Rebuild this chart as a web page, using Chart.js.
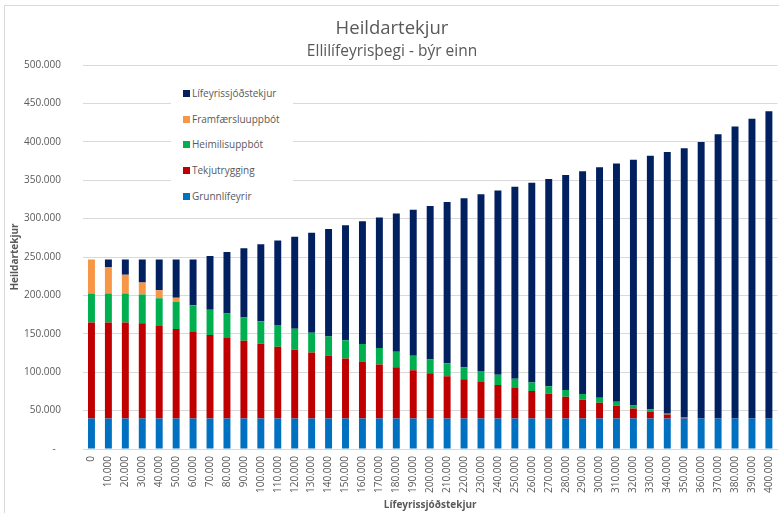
<!DOCTYPE html>
<html>
<head>
<meta charset="utf-8">
<script src="https://cdn.jsdelivr.net/npm/chart.js@4.4.0/dist/chart.umd.min.js"></script>
<style>
    html, body { margin: 0; padding: 0; background: #fff; overflow: hidden; width: 779px; height: 513px; }
    #frame { position: absolute; left: 4px; top: 5px; width: 800px; height: 600px; border-left: 1px solid #d9d9d9; border-top: 1px solid #d9d9d9; }
    #wrap { position: absolute; left: 0; top: 0; width: 788px; height: 513px; }
    #legend { position: absolute; left: 171px; top: 78px; width: 122px; height: 130px; background: #fff; font: 10px 'Open Sans', sans-serif; color: #595959; }
    .item { position: absolute; left: 12px; height: 14px; line-height: 14px; white-space: nowrap; }
    .item .box { display: inline-block; width: 7px; height: 7px; margin-right: 2px; vertical-align: 0px; }
</style>
</head>
<body>
<div id="frame"></div>
<div id="wrap"><canvas id="totalChart" width="788" height="513"></canvas></div>
<div id="legend"></div>
<script>
// Heildartekjur ellilífeyrisþega sem býr einn, eftir lífeyrissjóðstekjum

const incomeLabels = ['0', '10.000', '20.000', '30.000', '40.000', '50.000', '60.000', '70.000', '80.000', '90.000',
    '100.000', '110.000', '120.000', '130.000', '140.000', '150.000', '160.000', '170.000', '180.000', '190.000',
    '200.000', '210.000', '220.000', '230.000', '240.000', '250.000', '260.000', '270.000', '280.000', '290.000',
    '300.000', '310.000', '320.000', '330.000', '340.000', '350.000', '360.000', '370.000', '380.000', '390.000', '400.000'];

const grunnlifeyrir = [39862, 39862, 39862, 39862, 39862, 39862, 39862, 39862, 39862, 39862,
    39862, 39862, 39862, 39862, 39862, 39862, 39862, 39862, 39862, 39862,
    39862, 39862, 39862, 39862, 39862, 39862, 39862, 39862, 39862, 39862,
    39862, 39862, 39862, 39862, 39862, 39862, 39862, 39862, 39862, 39862, 39862];

const tekjutrygging = [125000, 125000, 125000, 124000, 120200, 116300, 112500, 108700, 104800, 101000,
    97200, 93300, 89500, 85700, 81800, 78000, 74200, 70300, 66500, 62600,
    58800, 55000, 51100, 47300, 43500, 39600, 35800, 32000, 28100, 24300,
    20500, 16600, 12800, 9000, 5100, 1300, 0, 0, 0, 0, 0];

const heimilisuppbot = [37700, 37700, 37700, 37400, 36300, 35100, 34000, 32800, 31700, 30500,
    29400, 28200, 27100, 25900, 24800, 23600, 22500, 21300, 20200, 19000,
    17900, 16700, 15600, 14400, 13300, 12100, 11000, 9800, 8700, 7500,
    6400, 5200, 4100, 2900, 1800, 600, 0, 0, 0, 0, 0];

const framfaersluuppbot = [44300, 34300, 24300, 15600, 10500, 5600, 500, 0, 0, 0,
    0, 0, 0, 0, 0, 0, 0, 0, 0, 0,
    0, 0, 0, 0, 0, 0, 0, 0, 0, 0,
    0, 0, 0, 0, 0, 0, 0, 0, 0, 0, 0];

const lifeyrissjodstekjur = [0, 10000, 20000, 30000, 40000, 50000, 60000, 70000, 80000, 90000,
    100000, 110000, 120000, 130000, 140000, 150000, 160000, 170000, 180000, 190000,
    200000, 210000, 220000, 230000, 240000, 250000, 260000, 270000, 280000, 290000,
    300000, 310000, 320000, 330000, 340000, 350000, 360000, 370000, 380000, 390000, 400000];

const seriesNames = ['Grunnlífeyrir', 'Tekjutrygging', 'Heimilisuppbót', 'Framfærsluuppbót', 'Lífeyrissjóðstekjur'];
const seriesData = [grunnlifeyrir, tekjutrygging, heimilisuppbot, framfaersluuppbot, lifeyrissjodstekjur];
const seriesColors = ['#0070C0', '#C00000', '#00B050', '#F79646', '#002060'];

const textColor = '#595959';
const gridColor = '#d9d9d9';
const fontFamily = "'Open Sans', sans-serif";

function thousands(v) {
    return String(v).replace(/\B(?=(\d{3})+(?!\d))/g, '.');
}

const ctx = document.getElementById('totalChart').getContext('2d');
const chart = new Chart(ctx, {
    type: 'bar',
    data: {
        labels: incomeLabels,
        datasets: seriesNames.map((name, i) => ({
            label: name,
            data: seriesData[i],
            backgroundColor: seriesColors[i],
            borderWidth: 0,
            barPercentage: 0.41,
            categoryPercentage: 1.0
        }))
    },
    options: {
        responsive: false,
        animation: false,
        layout: {
            padding: { left: 4, right: 8, top: 0, bottom: 0 }
        },
        plugins: {
            legend: { display: false },
            tooltip: { enabled: false },
            title: {
                display: true,
                text: 'Heildartekjur',
                color: textColor,
                font: { family: fontFamily, size: 18.5, weight: 'normal', lineHeight: 1 },
                padding: { top: 19, bottom: 0 }
            },
            subtitle: {
                display: true,
                text: 'Ellilífeyrisþegi - býr einn',
                color: textColor,
                font: { family: fontFamily, size: 15.5, weight: 'normal', lineHeight: 1 },
                padding: { top: 6.3, bottom: 5.7 }
            }
        },
        scales: {
            x: {
                stacked: true,
                grid: { display: false, drawTicks: false },
                border: { display: true, color: gridColor },
                ticks: {
                    autoSkip: false,
                    maxRotation: 90,
                    minRotation: 90,
                    padding: 7,
                    color: textColor,
                    font: { family: fontFamily, size: 10 }
                },
                title: {
                    display: true,
                    text: 'Lífeyrissjóðstekjur',
                    color: textColor,
                    font: { family: fontFamily, size: 10, weight: 'bold' },
                    padding: { top: 0, bottom: 2 }
                },
                afterFit: function(scale) { scale.height = 64; }
            },
            y: {
                stacked: true,
                min: 0,
                max: 500000,
                grid: { color: gridColor, drawTicks: false },
                border: { display: false },
                ticks: {
                    stepSize: 50000,
                    padding: 22,
                    color: textColor,
                    font: { family: fontFamily, size: 10 },
                    callback: function(value) {
                        return value === 0 ? '-  ' : thousands(value);
                    }
                },
                title: {
                    display: true,
                    text: 'Heildartekjur',
                    color: textColor,
                    font: { family: fontFamily, size: 10, weight: 'bold' },
                    padding: { top: 5, bottom: 0 }
                },
                afterFit: function(scale) { scale.width = 79; }
            }
        }
    }
});

// legend inside the plot, newest series on top like in Excel
const legendEl = document.getElementById('legend');
seriesNames.slice().reverse().forEach((name, k) => {
    const color = seriesColors[seriesNames.length - 1 - k];
    const item = document.createElement('div');
    item.className = 'item';
    item.style.top = (92.7 + 25.8 * k - 78 - 7) + 'px';
    item.innerHTML = '<span class="box" style="background:' + color + '"></span>' + name;
    legendEl.appendChild(item);
});
</script>
</body>
</html>
